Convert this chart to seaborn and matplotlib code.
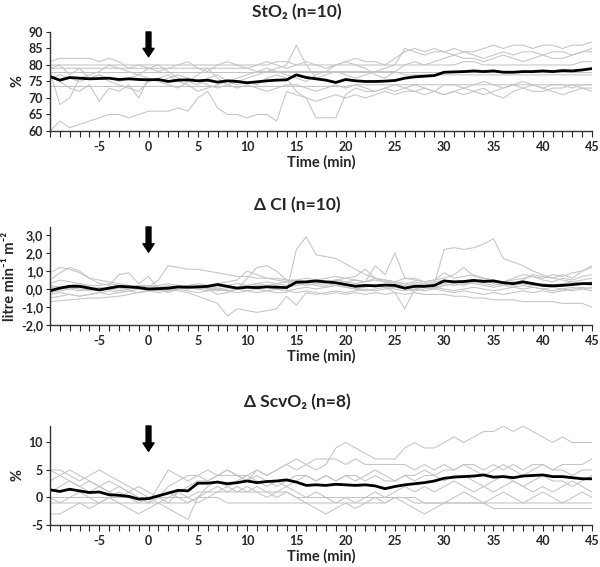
import numpy as np
import pandas as pd
import seaborn as sns
import matplotlib.pyplot as plt
from matplotlib.ticker import FuncFormatter

sns.set_style("ticks")
plt.rcParams['font.family'] = ['Lato', 'DejaVu Sans']
plt.rcParams['font.weight'] = 'bold'
plt.rcParams['axes.unicode_minus'] = False

# time axis (min)
minutes = list(range(-10, 46))

# StO2 (%) - individual patients and mean
sto2_patients = [
    [60, 63, 61, 62, 63, 64, 65, 65, 64, 65,
     66, 66, 66, 67, 66, 70, 72, 67, 65, 65,
     64, 65, 65, 63, 72, 71, 70, 69, 70, 71,
     70, 71, 70, 71, 72, 71, 72, 72, 71, 72,
     71, 72, 73, 72, 71, 72, 73, 74, 73, 72,
     72, 73, 73, 74, 73, 73],
    [80, 80, 80, 80, 80, 80, 80, 80, 80, 80,
     80, 80, 80, 80, 80, 80, 80, 80, 80, 80,
     80, 80, 80, 81, 81, 80, 80, 80, 80, 80,
     80, 80, 80, 80, 80, 80, 80, 80, 80, 80,
     80, 80, 81, 81, 80, 80, 80, 80, 80, 80,
     80, 80, 80, 80, 81, 81],
    [78] * 56,
    [73.5] * 31 + [74] * 25,
    [81, 82, 82, 82, 82, 81, 82, 81, 79, 80,
     79, 78, 79, 80, 81, 79, 78, 80, 81, 80,
     79, 80, 81, 80, 79, 80, 81, 80, 79, 80,
     81, 82, 81, 81, 80, 82, 84, 85, 84, 85,
     84, 85, 84, 84, 85, 86, 85, 86, 86, 85,
     86, 86, 85, 86, 86, 87],
    [78, 68, 70, 76, 77, 78, 80, 79, 78, 77,
     79, 80, 78, 76, 75, 77, 79, 76, 74, 75,
     76, 77, 78, 79, 80, 86, 80, 76, 77, 78,
     77, 76, 77, 78, 79, 80, 85, 84, 83, 84,
     84, 83, 84, 83, 82, 83, 84, 83, 84, 84,
     83, 84, 84, 83, 84, 85],
    [77, 75, 73, 72, 74, 69, 73, 72, 74, 70,
     76, 75, 74, 73, 75, 74, 76, 77, 75, 74,
     75, 74, 76, 77, 76, 72, 70, 64, 64, 64,
     71, 73, 72, 72, 73, 74, 73, 72, 73, 72,
     71, 72, 71, 72, 73, 71, 70, 72, 73, 74,
     73, 72, 71, 72, 73, 72],
    [79, 80, 77, 79, 76, 77, 75, 74, 73, 72,
     75, 76, 77, 75, 74, 72, 73, 74, 75, 76,
     77, 78, 79, 78, 77, 76, 75, 77, 78, 80,
     81, 80, 79, 77, 76, 78, 80, 81, 80, 81,
     82, 83, 82, 82, 81, 82, 83, 82, 81, 82,
     83, 82, 82, 83, 84, 84],
    [76, 77, 76, 75, 76, 77, 76, 75, 76, 77,
     76, 75, 76, 77, 76, 75, 74, 73, 74, 73,
     74, 73, 72, 73, 74, 74, 73, 72, 73, 74,
     73, 74, 73, 72, 73, 72, 73, 74, 73, 72,
     74, 74, 73, 74, 75, 74, 73, 74, 75, 74,
     73, 74, 74, 73, 74, 74],
    [79] * 21 + [78] * 15 + [77] * 20,
]
sto2_mean = [76.5, 75.4, 76.2, 76.0, 75.8, 75.9, 76.0, 75.6, 75.8, 75.6,
             75.5, 75.6, 75.0, 75.4, 75.5, 75.2, 75.4, 74.8, 75.2, 75.0,
             74.6, 74.9, 75.2, 75.4, 75.5, 77.0, 76.2, 75.8, 75.4, 74.7,
             75.6, 75.2, 75.0, 75.0, 75.1, 75.3, 76.0, 76.4, 76.6, 76.8,
             77.8, 77.9, 78.0, 78.2, 78.0, 78.2, 77.8, 77.8, 78.0, 78.0,
             78.2, 78.0, 78.3, 78.2, 78.5, 78.9]

# delta CI (litre/min/m2)
ci_patients = [
    [0.3, 0.5, 0.4, 0.3, 0.2, 0.2, 0.3, 0.2, 0.1, 0.2,
     0.1, 0.2, 0.3, 0.2, 0.1, 0.0, 0.1, 0.0, -0.1, 0.0,
     -0.1, 0.0, -0.1, -0.2, -0.2, 2.2, 2.9, 1.9, 1.8, 1.7,
     1.4, 1.1, 0.8, 0.6, 0.4, 0.4, 0.3, 0.2, 0.3, 0.2,
     0.3, 0.2, 0.3, 0.4, 0.3, 0.2, 0.3, 0.2, 0.3, 0.2,
     0.3, 0.2, 0.3, 0.4, 0.3, 0.2],
    [-0.2, -0.1, 0.0, -0.1, 0.0, 0.1, 0.0, -0.1, 0.0, 0.1,
     0.0, -0.1, 0.0, 0.1, 0.2, 0.1, 0.0, 0.1, 0.2, 0.3,
     0.2, 0.3, 0.4, 0.3, 0.2, 0.3, 0.4, 0.3, 0.4, 0.5,
     0.4, 0.3, 0.4, 0.5, 0.4, 0.3, 0.2, 0.3, 0.2, 0.3,
     2.2, 2.3, 2.2, 2.3, 2.5, 2.8, 1.7, 1.5, 1.3, 1.0,
     0.8, 0.6, 0.5, 0.4, 0.5, 0.6],
    [0.9, 1.2, 1.1, 0.9, 0.6, 0.5, 0.4, 0.3, 0.2, 0.1,
     0.0, 0.1, 0.0, -0.1, -0.2, -0.4, -0.6, -0.8, -1.5, -1.1,
     -1.2, -1.3, -1.2, -1.1, -0.4, -0.9, -0.2, -0.3, -0.2, -0.1,
     -0.2, -0.1, 0.0, -0.1, 0.0, 0.1, 0.0, -0.1, 0.0, 0.1,
     0.0, -0.1, 0.0, 0.1, 0.0, -0.1, 0.0, 0.1, 0.2, 0.1,
     0.0, 0.1, 0.0, -0.1, 0.0, 0.1],
    [0.1, 0.0, 0.1, 0.0, -0.1, 0.0, 0.1, 0.2, 0.1, 0.0,
     0.1, 0.5, 1.3, 1.2, 1.1, 1.1, 1.0, 0.9, 0.8, 0.7,
     0.7, 0.6, 0.6, 0.6, 0.5, 0.5, 0.4, 0.5, 0.4, 0.5,
     0.4, 0.5, 0.4, 0.6, 0.5, 0.4, 0.3, 0.4, 0.3, 0.4,
     0.5, 0.4, 0.3, 0.4, 0.5, 0.4, 0.3, 0.4, 0.3, 0.2,
     0.3, 0.2, 0.3, 0.2, 0.3, 0.4],
    [0.5, 0.9, 1.2, 1.0, 0.6, 0.3, 0.2, 0.8, 0.9, 0.3,
     0.7, 0.0, -0.2, 0.0, 0.1, 0.2, 0.0, -0.3, -0.2, 0.0,
     0.6, 1.2, 1.3, 1.0, 0.5, 0.4, 0.3, 0.4, 0.3, 0.5,
     0.6, 0.5, 0.4, 1.3, 0.8, 2.0, 0.6, 0.6, 0.4, 0.5,
     0.6, 0.8, 1.2, 0.7, 0.6, 0.5, 0.4, 0.5, 0.6, 0.7,
     0.6, 0.8, 0.7, 0.9, 1.0, 1.2],
    [-0.5, -0.4, -0.3, -0.4, -0.3, -0.2, -0.3, -0.2, -0.1, -0.2,
     -0.1, 0.0, -0.1, 0.0, 0.1, 0.0, -0.1, 0.0, -0.1, -0.2,
     -0.1, -0.2, -0.1, 0.0, -0.1, -0.2, -0.1, -0.2, -0.3, -0.2,
     -0.3, -0.2, -0.3, -0.2, -0.3, -0.2, -0.3, -0.2, -0.3, -0.3,
     -0.3, -0.4, -0.4, -0.5, -0.5, -0.6, -0.6, -0.6, -0.7, -0.7,
     -0.7, -0.7, -0.8, -0.8, -0.8, -1.0],
    [-0.7, -0.65, -0.6, -0.55, -0.5, -0.5, -0.45, -0.4, -0.3, -0.2,
     -0.1, 0.0, 0.1, 0.0, -0.1, -0.2, -0.1, 0.0, 0.1, 0.0,
     0.1, 0.2, 0.1, 0.0, -0.1, 0.0, 0.1, 0.0, 0.1, 0.2,
     0.1, 0.0, -0.1, 0.0, 0.1, -0.2, -1.1, 0.0, 0.1, 0.0,
     0.2, 0.3, 0.2, 0.4, 0.6, 0.3, 0.2, 0.1, 0.0, 0.1,
     0.0, -0.1, 0.0, 0.1, 0.0, -0.1],
    [0.0, 0.1, 0.2, 0.3, 0.1, 0.0, 0.1, 0.0, 0.1, 0.2,
     0.2, 0.1, 0.0, 0.1, 0.2, 0.3, 0.2, 0.3, 0.4, 0.5,
     1.0, 0.8, 0.6, 0.5, 0.4, 0.5, 0.6, 0.5, 0.6, 0.7,
     0.6, 0.7, 1.1, 0.6, 0.5, 0.4, 0.6, 0.5, 0.4, 0.5,
     0.9, 0.6, 0.7, 0.8, 0.6, 0.5, 0.4, 0.6, 0.8, 0.7,
     0.5, 0.4, 0.6, 0.5, 0.7, 0.8],
    [-0.3, -0.2, -0.3, -0.4, -0.3, -0.2, -0.1, -0.2, -0.1, 0.0,
     -0.1, -0.2, -0.1, 0.0, 0.1, 0.0, 0.1, 0.2, 0.1, 0.0,
     0.1, 0.0, 0.1, 0.2, 0.1, 0.2, 0.3, 0.2, 0.1, 0.2,
     0.1, 0.0, 0.1, 0.2, 0.1, 0.0, -0.1, 0.0, -0.1, 0.0,
     -0.1, -0.2, -0.1, -0.2, -0.3, -0.2, -0.3, -0.2, -0.1, -0.2,
     -0.1, -0.2, -0.1, 0.0, 0.1, 0.0],
    [0.2, 0.1, 0.0, 0.1, 0.0, -0.1, 0.0, 0.1, 0.0, 0.1,
     0.0, 0.1, 0.2, 0.1, 0.0, 0.1, 0.0, -0.1, 0.0, 0.1,
     0.2, 0.3, 0.2, 0.3, 0.4, 0.3, 0.2, 0.3, 0.2, 0.3,
     0.2, 0.3, 0.2, 0.1, 0.2, 0.1, 0.0, 0.1, 0.2, 0.1,
     0.2, 0.3, 0.4, 0.3, 0.2, 0.1, 0.2, 0.3, 0.5, 0.8,
     0.7, 0.6, 0.8, 0.6, 1.0, 1.3],
]
ci_mean = [-0.1, 0.05, 0.15, 0.15, 0.05, -0.05, 0.05, 0.15, 0.12, 0.08,
           0.0, 0.02, 0.05, 0.12, 0.1, 0.12, 0.15, 0.25, 0.15, 0.05,
           0.1, 0.08, 0.12, 0.1, 0.08, 0.38, 0.4, 0.45, 0.4, 0.35,
           0.25, 0.15, 0.2, 0.18, 0.22, 0.2, 0.05, 0.15, 0.15, 0.2,
           0.45, 0.4, 0.42, 0.48, 0.42, 0.45, 0.35, 0.3, 0.4, 0.3,
           0.2, 0.18, 0.2, 0.25, 0.3, 0.3]

# delta ScvO2 (%)
scvo2_patients = [
    [5, 4, 5, 4, 3, 2, 3, 2, 1, 0,
     -1, 2, 5, 4, 3, 4, 5, 4, 5, 4,
     3, 5, 4, 5, 6, 7, 6, 5, 6, 9,
     10, 9, 8, 7, 7, 7, 9, 10, 9, 9,
     10, 11, 10, 11, 12, 12, 13, 12, 13, 12,
     11, 10, 11, 10, 10, 10],
    [5, 5, 4, 3, 4, 5, 4, 3, 2, 1,
     0, 0, -1, 1, 2, 3, 3, 4, 4, 4,
     4, 5, 4, 5, 6, 5, 6, 7, 7, 7,
     6, 7, 6, 6, 6, 6, 6, 5, 6, 5,
     6, 5, 6, 6, 5, 6, 5, 6, 5, 6,
     6, 5, 6, 6, 6, 7],
    [3, 4, 3, 2, 3, 2, 1, 2, 1, 0,
     -1, 0, 1, 0, -1, 0, 2, 3, 2, 3,
     4, 3, 2, 3, 2, 3, 4, 3, 4, 3,
     4, 3, 4, 5, 4, 3, 4, 4, 5, 4,
     5, 5, 6, 5, 4, 5, 6, 5, 4, 5,
     6, 5, 5, 4, 5, 5],
    [1, 2, 3, 2, 1, 2, 1, 0, 1, 2,
     1, 0, 2, 3, 4, 4, 3, 4, 5, 4,
     3, 4, 3, 2, 3, 4, 4, 3, 4, 3,
     4, 4, 3, 4, 3, 3, 4, 3, 4, 4,
     3, 4, 4, 3, 2, 3, 4, 3, 2, 3,
     4, 3, 3, 2, 3, 4],
    [0, -1, 0, 1, 0, -1, 0, 1, 0, -1,
     0, -1, 0, 1, 0, -1, 0, 1, 2, 1,
     2, 1, 0, 1, 2, 1, 0, 1, 0, -1,
     0, -1, 0, 1, 0, 1, 2, 1, 2, 1,
     2, 3, 2, 1, 2, 1, 2, 3, 2, 1,
     2, 1, 2, 3, 2, 1],
    [0] * 15 + [1] * 10 + [0] * 13 + [-1] * 7 + [-2] * 11,
    [-1] * 15 + [0, 0, 0] + [-1] * 17 + [0, 0] + [-1] * 19,
    [-3, -3, -2, -1, -2, -1, 0, -1, -2, -3,
     -2, -1, -2, -3, -4, 0, 1, 2, 1, 2,
     1, 2, 1, 0, 1, 0, -1, -2, -3, -2,
     -1, -2, -1, 0, -1, 0, -1, -2, -3, -2,
     -1, 0, 1, 0, -1, 0, 1, 0, -1, 0,
     1, 0, -1, 0, 1, 0],
]
scvo2_mean = [1.4, 1.1, 1.5, 1.2, 0.9, 1.0, 0.5, 0.4, 0.2, -0.3,
              -0.2, 0.3, 0.8, 1.3, 1.2, 2.6, 2.6, 2.8, 2.5, 2.7,
              3.0, 2.7, 2.9, 3.0, 3.2, 2.8, 2.2, 2.3, 2.2, 2.4,
              2.3, 2.2, 2.3, 2.1, 1.6, 2.0, 2.3, 2.5, 2.7, 3.0,
              3.5, 3.7, 3.8, 3.9, 4.1, 3.7, 3.8, 3.6, 3.9, 4.0,
              4.1, 3.8, 3.8, 3.6, 3.4, 3.4]

titles = ['StO\u2082 (n=10)', '\u0394 CI (n=10)', '\u0394 ScvO\u2082 (n=8)']
ylabels = ['%', 'litre min\u207b\u00b9 m\u207b\u00b2', '%']
ylims = [(60, 90), (-2, 3.45), (-5, 13)]
yticks = [list(range(60, 91, 5)), [-2, -1, 0, 1, 2, 3], [-5, 0, 5, 10]]
arrow_tips = [82.5, 2.05, 8.4]
panels = [(sto2_patients, sto2_mean), (ci_patients, ci_mean), (scvo2_patients, scvo2_mean)]

fig = plt.figure(figsize=(6, 5.67), dpi=100)
axes_pos = [[0.0833, 0.7690, 0.9034, 0.1746],
            [0.0833, 0.4268, 0.9034, 0.1729],
            [0.0833, 0.0741, 0.9034, 0.1746]]
title_y = [0.979, 0.638, 0.291]

xtick_labels = [str(m) if (m % 5 == 0 and m > -10) else '' for m in minutes]

for i, (patients, mean) in enumerate(panels):
    ax = fig.add_axes(axes_pos[i])
    long = pd.DataFrame({
        'time': minutes * len(patients),
        'value': [v for p in patients for v in p],
        'patient': [k for k in range(len(patients)) for _ in minutes],
    })
    sns.lineplot(data=long, x='time', y='value', units='patient', estimator=None,
                 color='#c4c4c4', linewidth=0.75, ax=ax)
    sns.lineplot(x=minutes, y=mean, color='black', linewidth=2, ax=ax)

    ax.set_xlim(-10, 45)
    ax.set_ylim(*ylims[i])
    ax.set_xticks(minutes)
    ax.set_xticklabels(xtick_labels, fontsize=9, fontweight='bold')
    ax.set_yticks(yticks[i])
    if i == 1:
        ax.yaxis.set_major_formatter(FuncFormatter(lambda v, p: f'{v:.1f}'.replace('.', ',')))
    for lab in ax.get_yticklabels():
        lab.set_fontsize(9)
        lab.set_fontweight('bold')
    ax.tick_params(axis='x', direction='out', length=4, width=0.8, pad=3.5)
    ax.tick_params(axis='y', direction='out', length=3, width=0.8, pad=2)
    sns.despine(ax=ax)
    for s in ['left', 'bottom']:
        ax.spines[s].set_color('#333333')
        ax.spines[s].set_linewidth(1.0)

    ax.set_xlabel('Time (min)', fontsize=10.5, fontweight='bold', labelpad=1.5)
    ax.set_ylabel(ylabels[i], fontsize=10.5, fontweight='bold', labelpad=3)

    ax.annotate('', xy=(0, arrow_tips[i]), xytext=(0, ylims[i][1]),
                arrowprops=dict(facecolor='black', edgecolor='black',
                                width=3.5, headwidth=8, headlength=6, shrink=0))

    fig.text(0.495, title_y[i], titles[i], ha='center', va='center',
             fontsize=12.5, fontweight='bold')

fig.savefig('out.png', dpi=100)
